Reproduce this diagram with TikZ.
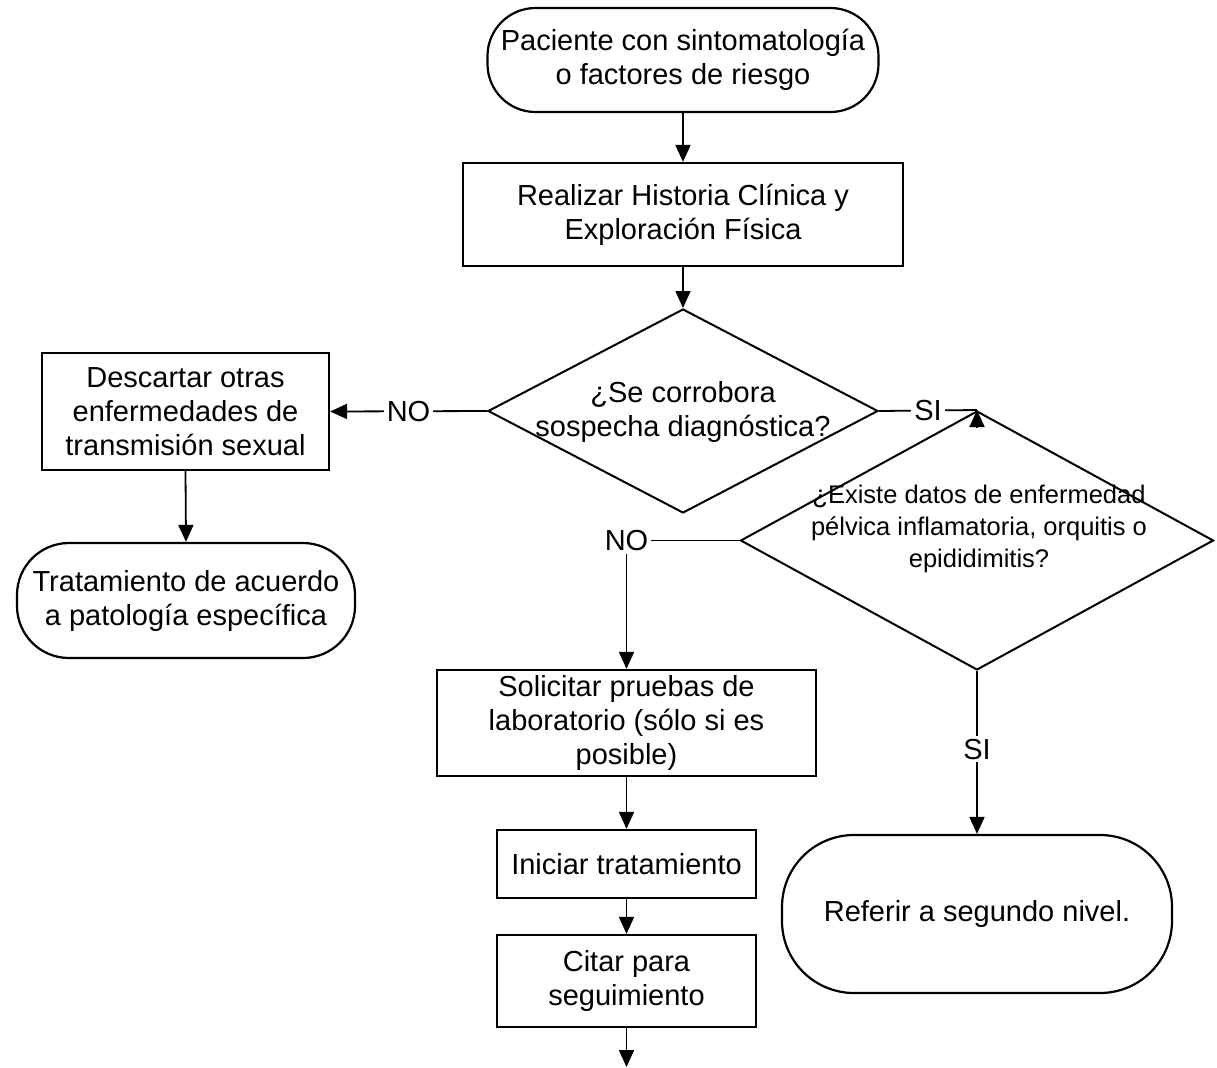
\documentclass[tikz,border=0pt]{standalone}
\usepackage{fontspec}
\setmainfont{Liberation Sans}
\usetikzlibrary{arrows.meta,shapes.geometric}

\begin{document}
\begin{tikzpicture}[x=0.5pt,y=-0.5pt,
	caja/.style={draw,line width=1.1pt,inner sep=0pt,align=center,font=\fontsize{14.5pt}{17pt}\selectfont},
	terminal/.style={caja,rounded corners=#1},
	rombo/.style={draw,diamond,line width=1pt,inner sep=0pt},
	texto/.style={align=center,inner sep=0pt,font=\fontsize{14.5pt}{17pt}\selectfont},
	flecha/.style={line width=0.9pt,-{Triangle[length=8.5pt,width=7.5pt]}},
	linea/.style={line width=0.9pt},
	etiqueta/.style={fill=white,inner sep=1.5pt,font=\fontsize{14.5pt}{17pt}\selectfont}]
			%%%%% START %%%%%
			
			\useasboundingbox (0,0) rectangle (1217,1067);
			
			\node[terminal=24pt, minimum width=195.5pt, minimum height=52pt] (inicio) at (683,60) {Paciente con sintomatología\\o factores de riesgo};
			\node[caja, minimum width=220pt, minimum height=51.5pt] (historia) at (683,214.5) {Realizar Historia Clínica y\\Exploración Física};
			
			\node[rombo, minimum width=195pt, minimum height=102pt] (corrobora) at (683,411) {};
			\node[texto] (corroboraTxt) at (683,412) {¿Se corrobora\\sospecha diagnóstica?};
			
			\node[caja, minimum width=143.5pt, minimum height=58.5pt] (descartar) at (185.5,411.5) {Descartar otras\\enfermedades de\\transmisión sexual};
			\node[terminal=26pt, minimum width=169pt, minimum height=57.5pt] (tratamiento) at (186,600.5) {Tratamiento de acuerdo\\a patología específica};
			
			\node[rombo, minimum width=236.5pt, minimum height=129.5pt] (existe) at (977,540.5) {};
			\node[texto, font=\fontsize{12.75pt}{16pt}\selectfont] (existeTxt) at (979,529) {¿Existe datos de enfermedad\\pélvica inflamatoria, orquitis o\\epididimitis?};
			
			\node[caja, minimum width=189.5pt, minimum height=53pt] (solicitar) at (626.5,723) {Solicitar pruebas de\\laboratorio (sólo si es\\posible)};
			\node[caja, minimum width=129.5pt, minimum height=34pt] (iniciar) at (626.5,864) {Iniciar tratamiento};
			\node[caja, minimum width=129.5pt, minimum height=46pt] (citar) at (626.5,981) {Citar para\\seguimiento};
			\coordinate (fin) at (626.5,1067);
			
			\node[terminal=36pt, minimum width=195pt, minimum height=79pt] (referir) at (977,914) {Referir a segundo nivel.};
			
			\draw[flecha] (inicio.south) -- (historia.north);
			\draw[flecha] (historia.south) -- (corrobora.north);
			\draw[flecha] (corrobora.west) -- node[etiqueta] {NO} (descartar.east);
			\draw[flecha] (descartar.south) -- (tratamiento.north);
			
			\draw[linea] (corrobora.east) -- node[etiqueta] {SI} (existe.north);
			\draw[flecha] ([yshift=-9pt]existe.north) -- (existe.north);
			
			\draw[flecha] (existe.west) -| node[etiqueta, pos=0.5] {NO} (solicitar.north);
			\draw[flecha] (existe.south) -- node[etiqueta, pos=0.48] {SI} (referir.north);
			
			\draw[flecha] (solicitar.south) -- (iniciar.north);
			\draw[flecha] (iniciar.south) -- (citar.north);
			\draw[flecha] (citar.south) -- (fin);
			
			%%%%% END %%%%%
\end{tikzpicture}
\end{document}
